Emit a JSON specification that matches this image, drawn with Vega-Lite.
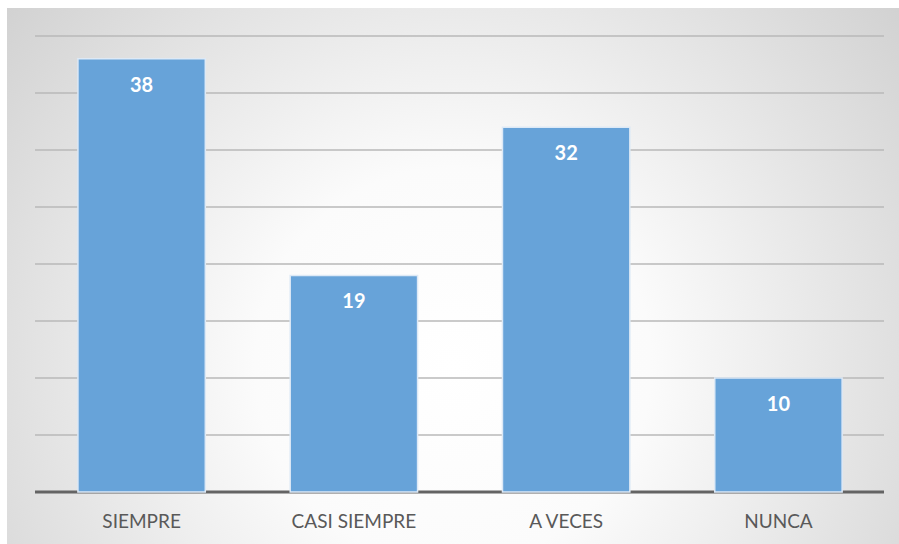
{
  "$schema": "https://vega.github.io/schema/vega-lite/v6.json",
  "width": 892,
  "height": 536,
  "autosize": {"type": "none"},
  "padding": {"left": 7, "top": 8, "right": 0, "bottom": 0},
  "background": "#ffffff",
  "config": {"view": {"stroke": null}},
  "datasets": {
    "bars": [
      {"cat": "SIEMPRE", "v": 38},
      {"cat": "CASI SIEMPRE", "v": 19},
      {"cat": "A VECES", "v": 32},
      {"cat": "NUNCA", "v": 10}
    ],
    "grid": [
      {"g": 5}, {"g": 10}, {"g": 15}, {"g": 20},
      {"g": 25}, {"g": 30}, {"g": 35}, {"g": 40}
    ]
  },
  "resolve": {"scale": {"x": "independent"}, "axis": {"x": "independent"}},
  "layer": [
    {
      "layer": [
        {
          "data": {"values": [{"bg": 1}]},
          "mark": {
            "type": "rect",
            "color": {
              "gradient": "radial",
              "x1": 0.5, "y1": 0.6, "r1": 0,
              "x2": 0.5, "y2": 0.6, "r2": 0.74,
              "stops": [
                {"offset": 0, "color": "#ffffff"},
                {"offset": 0.3, "color": "#fbfbfb"},
                {"offset": 1, "color": "#c8c8c8"}
              ]
            }
          },
          "encoding": {
            "x": {"datum": -0.03298, "type": "quantitative", "scale": {"domain": [-0.03298, 1.01767], "nice": false, "zero": false}, "axis": null},
            "x2": {"datum": 1.01767},
            "y": {"datum": -4.56, "type": "quantitative", "scale": {"domain": [-4.56, 42.46], "nice": false, "zero": false}, "axis": null},
            "y2": {"datum": 42.46}
          }
        },
        {
          "data": {"name": "grid"},
          "mark": {"type": "rule", "color": "#b8b8b8", "strokeWidth": 1.5},
          "encoding": {
            "y": {"field": "g", "type": "quantitative", "scale": {"domain": [-4.56, 42.46], "nice": false, "zero": false}, "axis": null},
            "x": {"datum": 0, "type": "quantitative"},
            "x2": {"datum": 1}
          }
        },
        {
          "data": {"values": [{"b": 0}]},
          "mark": {"type": "rule", "color": "#646464", "strokeWidth": 3},
          "encoding": {
            "y": {"field": "b", "type": "quantitative", "scale": {"domain": [-4.56, 42.46], "nice": false, "zero": false}, "axis": null},
            "x": {"datum": 0, "type": "quantitative"},
            "x2": {"datum": 1}
          }
        }
      ]
    },
    {
      "layer": [
        {
          "data": {"name": "bars"},
          "mark": {"type": "bar", "color": "#67a3d9", "stroke": "#dde9f6", "strokeWidth": 1.5},
          "encoding": {
            "x": {
              "field": "cat", "type": "nominal", "sort": null,
              "scale": {"paddingInner": 0.4, "paddingOuter": 0.301, "align": 0.555},
              "axis": {
                "orient": "bottom",
                "title": null, "domain": false, "ticks": false, "tickSize": 0,
                "offset": -52, "labelPadding": 20, "labelAngle": 0, "zindex": 2,
                "labelFont": "Lato", "labelFontSize": 19, "labelColor": "#595959"
              }
            },
            "y": {
              "field": "v", "type": "quantitative",
              "scale": {"domain": [-4.56, 42.46], "nice": false, "zero": false},
              "axis": null
            },
            "y2": {"datum": 0}
          }
        },
        {
          "data": {"name": "bars"},
          "mark": {"type": "text", "color": "#ffffff", "font": "Lato", "fontSize": 20, "fontWeight": "bold", "baseline": "middle", "dy": 27},
          "encoding": {
            "x": {"field": "cat", "type": "nominal", "sort": null},
            "y": {"field": "v", "type": "quantitative", "scale": {"domain": [-4.56, 42.46], "nice": false, "zero": false}, "axis": null},
            "text": {"field": "v", "type": "quantitative"}
          }
        }
      ]
    }
  ]
}
